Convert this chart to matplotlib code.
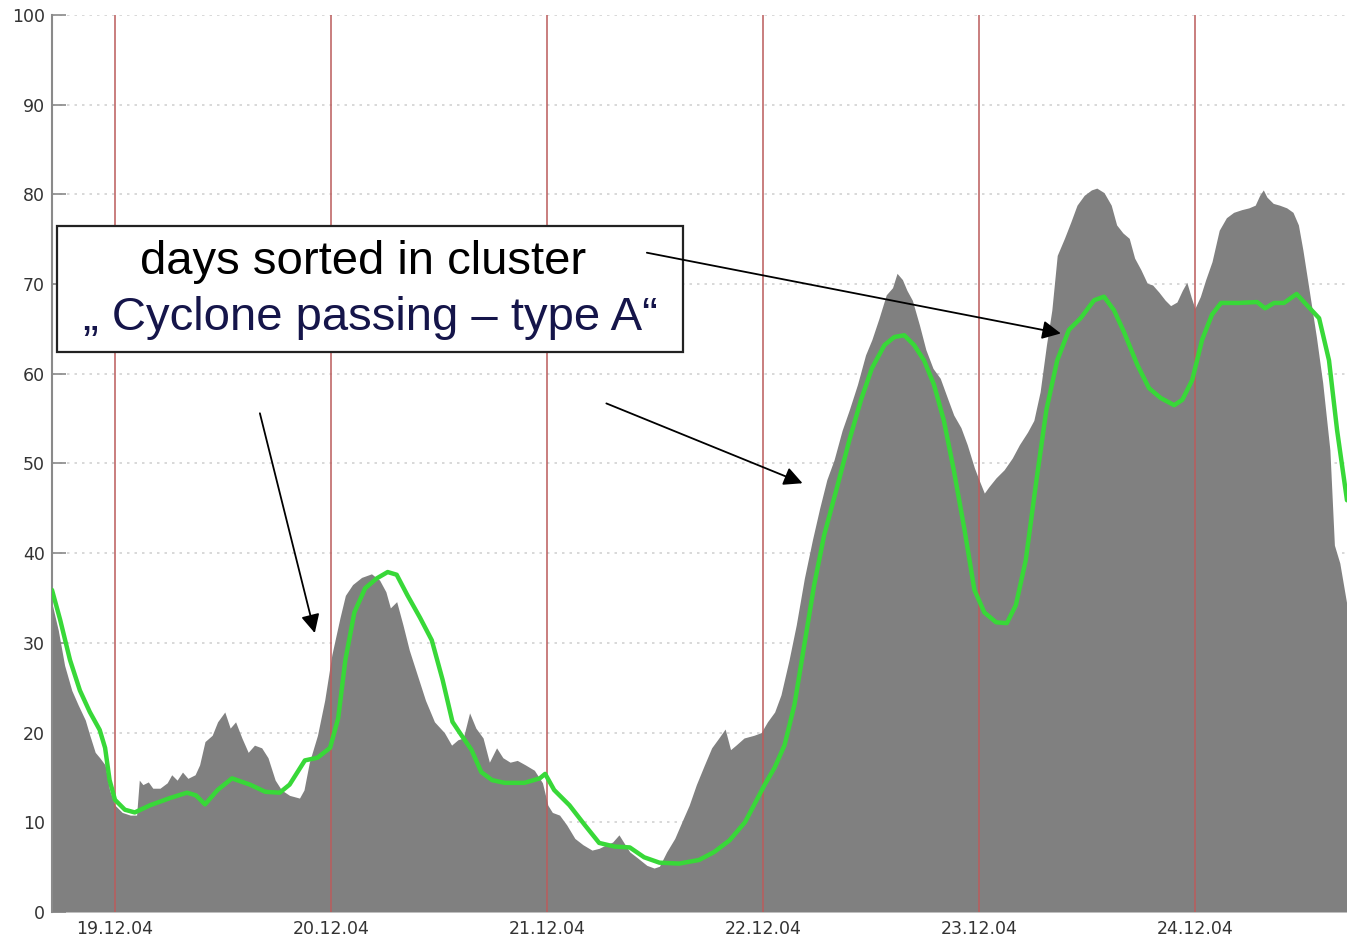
import matplotlib
matplotlib.use("Agg")
import matplotlib.pyplot as plt
from matplotlib.patches import Rectangle

# ---- data (x in hours since 19.12.04 00:00) ----
gray_hours = [-7.0, -6.3, -5.6, -4.8, -4.1, -3.3, -2.8, -2.2, -1.7, -1.1, -0.6, 0.0, 0.8, 1.7, 2.4, 2.7,
              3.1, 3.7, 4.2, 5.0, 5.8, 6.3, 6.9, 7.5, 8.1, 8.9, 9.4, 10.0, 10.8, 11.4, 12.2, 12.8,
              13.4, 14.1, 14.8, 15.5, 16.3, 17.0, 17.8, 18.5, 19.4, 20.5, 21.0, 21.6, 22.5, 23.3,
              24.1, 25.0, 25.6, 26.4, 27.4, 28.5, 29.4, 30.1, 30.6, 31.3, 32.0, 32.7, 33.6, 34.5,
              35.5, 36.6, 37.4, 38.1, 38.7, 39.4, 40.1, 40.9, 41.6, 42.4, 43.1, 43.9, 44.7, 45.6,
              46.6, 47.5, 48.1, 48.6, 49.4, 50.2, 51.1, 52.0, 53.0, 53.8, 54.6, 55.3, 56.0, 56.5,
              57.2, 58.1, 59.1, 59.9, 60.5, 61.3, 62.2, 63.1, 63.8, 64.6, 65.5, 66.3, 67.1, 67.8,
              68.4, 69.0, 69.9, 71.0, 71.8, 72.5, 73.3, 74.0, 74.9, 75.7, 76.6, 77.5, 78.3, 79.1,
              79.9, 80.8, 81.6, 82.5, 83.4, 84.1, 84.9, 85.7, 86.4, 86.9, 87.5, 88.0, 88.6, 89.4,
              90.1, 90.9, 91.7, 92.5, 93.2, 94.0, 94.7, 95.5, 96.0, 96.6, 97.1, 97.9, 98.8, 99.7,
              100.5, 101.4, 102.1, 102.8, 103.5, 104.1, 104.7, 105.5, 106.2, 106.9, 107.7, 108.5,
              109.1, 109.9, 110.7, 111.3, 112.0, 112.7, 113.3, 114.0, 114.7, 115.3, 116.0, 116.7,
              117.3, 118.0, 118.6, 119.1, 119.6, 120.0, 120.6, 121.2, 121.9, 122.7, 123.5, 124.3,
              125.2, 126.0, 126.7, 127.2, 127.6, 128.0, 128.7, 129.4, 130.2, 130.9, 131.5, 132.0,
              132.7, 133.5, 134.2, 135.0, 135.5, 136.1, 136.9]
gray_values = [34.4, 31.4, 27.5, 24.7, 23.1, 21.4, 19.7, 17.8, 17.2, 16.4, 13.6, 11.9, 11.1, 10.8, 10.8, 14.7,
               14.2, 14.5, 13.8, 13.8, 14.4, 15.3, 14.7, 15.6, 14.9, 15.3, 16.4, 19.0, 19.7, 21.2, 22.3, 20.5,
               21.2, 19.4, 17.8, 18.6, 18.3, 17.2, 14.7, 13.6, 13.0, 12.7, 13.6, 16.7, 19.7, 23.6,
               28.7, 32.8, 35.3, 36.5, 37.3, 37.7, 37.0, 35.7, 33.9, 34.6, 32.0, 29.2, 26.4, 23.6,
               21.2, 20.0, 18.6, 19.2, 19.4, 22.2, 20.5, 19.4, 16.7, 18.3, 17.2, 16.7, 16.9, 16.4,
               15.8, 14.4, 11.9, 11.1, 10.8, 9.7, 8.2, 7.5, 6.9, 7.1, 7.5, 7.8, 8.6, 7.8,
               6.7, 6.0, 5.2, 4.9, 5.1, 6.7, 8.2, 10.3, 11.9, 14.2, 16.4, 18.3, 19.4, 20.4,
               18.1, 18.6, 19.4, 19.7, 20.0, 21.2, 22.3, 24.2, 28.1, 32.0, 37.2, 41.5, 45.0, 48.2,
               50.4, 53.7, 56.0, 58.8, 62.1, 63.8, 66.2, 68.8, 69.6, 71.2, 70.5, 69.3, 68.2, 65.4,
               62.7, 60.6, 59.5, 57.3, 55.4, 54.0, 52.1, 49.5, 48.2, 46.7, 47.4, 48.4, 49.3, 50.6,
               52.1, 53.5, 54.8, 58.0, 63.2, 67.1, 73.2, 75.1, 76.9, 78.8, 79.9, 80.5,
               80.7, 80.2, 78.8, 76.6, 75.7, 75.1, 72.9, 71.6, 70.1, 69.9, 69.1, 68.2,
               67.6, 68.0, 69.3, 70.2, 68.5, 67.3, 68.6, 70.5, 72.5, 76.0, 77.4, 78.0,
               78.3, 78.5, 78.8, 79.9, 80.5, 79.7, 79.0, 78.8, 78.5, 78.0, 76.6, 73.8,
               69.3, 64.1, 59.0, 51.5, 40.9, 38.9, 34.2]

green_hours = [-7.0, -6.1, -5.0, -3.9, -2.8, -1.7, -1.1, -0.6, 0.0, 1.1, 2.2, 3.9, 6.1, 8.0, 9.0, 10.0,
               11.4, 13.0, 15.0, 16.7, 18.3, 19.4, 21.1, 22.5, 23.9, 24.8, 25.6, 26.6, 27.8, 29.1,
               30.3, 31.3, 32.5, 33.9, 35.2, 36.4, 37.5, 38.5, 39.6, 40.7, 41.9, 43.3, 45.5, 47.2,
               47.8, 48.8, 50.5, 52.2, 53.8, 55.5, 57.2, 58.8, 60.5, 62.7, 64.9, 66.6, 68.3, 70.0,
               71.0, 72.2, 73.3, 74.4, 75.5, 76.6, 77.7, 78.8, 80.3, 81.6, 82.9, 84.1, 85.5, 86.6,
               87.7, 88.8, 89.9, 91.0, 92.1, 93.2, 94.4, 95.5, 96.6, 97.9, 99.1, 100.1, 101.2,
               102.4, 103.5, 104.7, 106.0, 107.3, 108.8, 109.9, 111.0, 112.1, 113.6, 114.9, 116.2,
               117.7, 118.6, 119.7, 120.8, 121.9, 122.9, 124.9, 126.9, 127.8, 128.8, 129.9, 131.3,
               132.4, 133.8, 134.9, 135.8, 136.9]
green_values = [35.9, 32.6, 28.1, 24.7, 22.3, 20.3, 18.3, 14.7, 12.5, 11.4, 11.1, 11.9, 12.7, 13.3, 13.0, 12.0,
                13.6, 14.9, 14.2, 13.4, 13.3, 14.2, 16.9, 17.2, 18.3, 21.6, 28.1, 33.4, 36.1, 37.2,
                37.9, 37.6, 35.3, 32.8, 30.3, 25.9, 21.2, 19.7, 18.1, 15.6, 14.7, 14.4, 14.4, 14.9,
                15.4, 13.6, 11.9, 9.7, 7.7, 7.3, 7.2, 6.1, 5.5, 5.4, 5.8, 6.7, 8.0, 10.0,
                11.9, 14.2, 16.1, 18.6, 23.1, 29.8, 36.5, 42.0, 47.6, 52.6, 57.1, 60.6, 63.2, 64.1,
                64.3, 63.2, 61.5, 58.8, 54.8, 49.3, 42.6, 35.9, 33.4, 32.3, 32.2, 34.2, 39.2,
                48.2, 56.0, 61.5, 64.9, 66.2, 68.2, 68.6, 67.1, 64.7, 61.0, 58.4, 57.3,
                56.5, 57.1, 59.3, 63.8, 66.6, 67.9, 67.9, 68.0, 67.3, 67.9, 67.9, 68.9,
                67.7, 66.2, 61.5, 53.7, 45.9]

day_hours = [0, 24, 48, 72, 96, 120]
day_labels = ["19.12.04", "20.12.04", "21.12.04", "22.12.04", "23.12.04", "24.12.04"]
y_ticks = [0, 10, 20, 30, 40, 50, 60, 70, 80, 90, 100]

box_line1 = "days sorted in cluster"
box_line2 = "\u201e Cyclone passing \u2013 type A\u201c"

# ---- figure ----
W, H = 1347, 942
fig = plt.figure(figsize=(W / 100, H / 100), dpi=100)
fig.patch.set_facecolor("white")
ax = fig.add_axes([52 / W, 30 / H, 1295 / W, 897 / H])

ax.fill_between(gray_hours, gray_values, 0, color="#808080", lw=0, zorder=1)
for d in day_hours:
    ax.axvline(d, color="#bb5c5c", lw=1.3, alpha=0.85, zorder=2)
ax.plot(green_hours, green_values, color="#38d838", lw=3.2, zorder=3,
        solid_joinstyle="round", solid_capstyle="round")

ax.set_xlim(-7.0, 136.9)
ax.set_ylim(0, 100)
ax.set_yticks(y_ticks)
ax.set_xticks(day_hours)
ax.set_xticklabels(day_labels)

ax.yaxis.grid(True, linestyle=(0, (1.5, 3)), color="#d2d2d2", lw=1.2)
ax.set_axisbelow(True)

for s in ["top", "right", "bottom"]:
    ax.spines[s].set_visible(False)
ax.spines["left"].set_color("#8a8a8a")
ax.spines["left"].set_linewidth(1.5)

ax.tick_params(axis="y", direction="in", length=10, width=1.2, color="#8a8a8a",
               labelsize=12.5, labelcolor="#333333", pad=5)
ax.tick_params(axis="x", length=0, labelsize=12.5, labelcolor="#333333", pad=6)
for lab in ax.get_xticklabels() + ax.get_yticklabels():
    lab.set_family("DejaVu Sans")

# annotation box (drawn inside the axes so arrows can sit on top of it)
rect = Rectangle((57 / W, (H - 352) / H), 626 / W, 126 / H, transform=fig.transFigure,
                 facecolor="white", edgecolor="#222222", lw=1.6, zorder=4, clip_on=False)
ax.add_patch(rect)
ax.text(363 / W, (H - 262) / H, box_line1, transform=fig.transFigure, ha="center", va="center",
        fontsize=34, family="Liberation Sans", color="black", zorder=5)
ax.text(370 / W, (H - 318) / H, box_line2, transform=fig.transFigure, ha="center", va="center",
        fontsize=34, family="Liberation Sans", color="#15154a", zorder=5)

# arrows (data coords, hours / value)
arrows = [((59.1, 73.5), (105.1, 64.5)),
          ((54.6, 56.7), (76.4, 47.8)),
          ((16.1, 55.6), (22.2, 31.1))]
for start, end in arrows:
    ax.annotate("", xy=end, xytext=start, xycoords="data", textcoords="data",
                arrowprops=dict(arrowstyle="-|>", color="black", lw=1.3,
                                mutation_scale=28, shrinkA=0, shrinkB=0),
                zorder=6)

fig.savefig("out.png", dpi=100)
